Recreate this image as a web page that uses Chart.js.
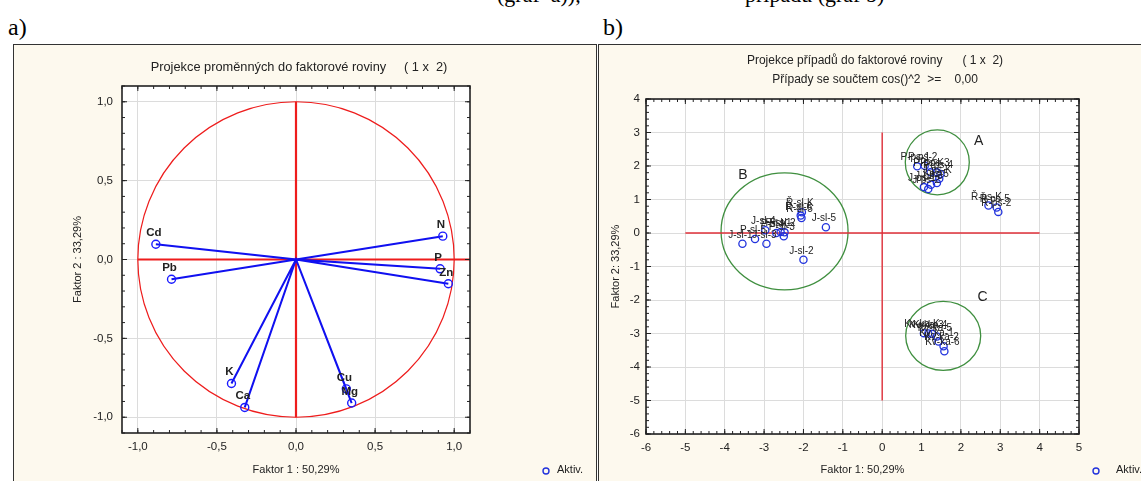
<!DOCTYPE html>
<html>
<head>
<meta charset="utf-8">
<script src="https://cdn.jsdelivr.net/npm/chart.js@4.4.1/dist/chart.umd.min.js"></script>
<style>
    body { margin: 0; width: 1141px; height: 481px; overflow: hidden; background: #fff; position: relative; }
    .tag { position: absolute; font-family: "Liberation Serif", serif; font-size: 24px; color: #000; }
    .top-line { position: absolute; top: -18px; font-family: "Liberation Serif", serif; font-size: 22px; white-space: pre; }
    .panel { position: absolute; background: #fdf9ee; border: 1px solid #333; box-sizing: border-box; }
    #panelA { left: 13px; top: 44px; width: 584px; height: 460px; }
    #panelB { left: 598px; top: 44px; width: 560px; height: 460px; }
    canvas { position: absolute; }
    #chartA { left: 13px; top: 44px; }
    #chartB { left: 598px; top: 44px; }
</style>
</head>
<body>
<div class="top-line" style="left:497px">(graf  a)),</div>
<div class="top-line" style="left:745px">případů (graf b)</div>
<div class="tag" style="left:8px; top:14px">a)</div>
<div class="tag" style="left:603px; top:14px">b)</div>
<div class="panel" id="panelA"></div>
<div class="panel" id="panelB"></div>
<canvas id="chartA" width="584" height="437"></canvas>
<canvas id="chartB" width="543" height="437"></canvas>

<script>
// ---- a) projection of variables ----
const varNames = ['N', 'P', 'Zn', 'Cd', 'Pb', 'K', 'Ca', 'Cu', 'Mg'];
const varF1 = [0.928, 0.911, 0.963, -0.886, -0.787, -0.408, -0.324, 0.318, 0.352];
const varF2 = [0.148, -0.059, -0.154, 0.097, -0.125, -0.786, -0.938, -0.820, -0.910];
const ticksA = [-1.0, -0.5, 0.0, 0.5, 1.0];

// ---- b) projection of cases ----
const caseNames = [
    'Ř-sl-K', 'Ř-sl-6', 'Ř-sl-5', 'J-sl-5', 'J-sl-2', 'J-sl-1', 'P-sl-5', 'J-sl-3', 'J-sl-4',
    'P-sl-K', 'P-sl-1', 'P-sl-2', 'P-sl-3',
    'P-ps-1', 'P-ps-2', 'P-ps-K', 'P-ps-3', 'P-ps-4', 'J-ps-1', 'J-ps-2', 'J-ps-3', 'J-ps-5', 'J-ps-K',
    'Ř-ps-K', 'Ř-ps-5', 'Ř-ps-2',
    'Kv-ka-K', 'Kv-ka-3', 'Kv-ka-4', 'Kv-ka-5', 'Kv-ka-1', 'Kv-ka-2', 'Kv-ka-6'
];
const caseF1 = [
    -2.04, -2.07, -2.05, -1.43, -2.00, -3.55, -3.23, -2.94, -2.97,
    -2.69, -2.58, -2.48, -2.50,
    0.89, 1.08, 1.23, 1.39, 1.48, 1.06, 1.17, 1.24, 1.39, 1.45,
    2.70, 2.91, 2.95,
    1.06, 1.17, 1.27, 1.39, 1.43, 1.56, 1.58
];
const caseF2 = [
    0.62, 0.52, 0.45, 0.17, -0.80, -0.32, -0.18, -0.32, 0.08,
    0.00, 0.03, 0.02, -0.10,
    1.99, 2.01, 1.81, 1.81, 1.76, 1.37, 1.31, 1.44, 1.49, 1.62,
    0.82, 0.76, 0.63,
    -2.99, -3.00, -3.01, -3.09, -3.24, -3.38, -3.53
];
const groupNames = ['A', 'B', 'C'];
const groupF1 = [1.40, -2.48, 1.55];
const groupF2 = [2.11, 0.05, -3.07];
const groupTagF1 = [2.45, -3.54, 2.55];
const groupTagF2 = [2.73, 1.72, -1.90];
const ticksBX = [-6, -5, -4, -3, -2, -1, 0, 1, 2, 3, 4, 5];
const ticksBY = [-6, -5, -4, -3, -2, -1, 0, 1, 2, 3, 4];

// ring sizes in pixels (x, y radius) for groups A, B, C
const ringSize = [[32, 32.5], [63.5, 58.5], [37.5, 34.5]];

const SANS = '"Liberation Sans", Arial, sans-serif';
const comma = (v, d) => v.toFixed(d).replace('.', ',');

// white plot area, outer frame and inward ticks on all four sides
const framePlugin = {
    id: 'frame',
    beforeDraw(chart) {
        const { ctx, chartArea: a } = chart;
        ctx.save();
        ctx.fillStyle = '#fff';
        ctx.fillRect(a.left, a.top, a.right - a.left, a.bottom - a.top);
        ctx.restore();
    },
    afterDraw(chart, args, opts) {
        const { ctx, chartArea: a, scales: { x, y } } = chart;
        ctx.save();
        ctx.strokeStyle = '#222';
        ctx.lineWidth = 1;
        const marks = (scale, step, len) => {
            const start = Math.ceil(scale.min / step - 1e-6);
            for (let i = start; i * step <= scale.max + 1e-6; i++) {
                const p = scale.getPixelForValue(i * step);
                ctx.beginPath();
                if (scale.axis === 'x') {
                    ctx.moveTo(p, a.bottom); ctx.lineTo(p, a.bottom - len);
                    ctx.moveTo(p, a.top); ctx.lineTo(p, a.top + len);
                } else {
                    ctx.moveTo(a.left, p); ctx.lineTo(a.left + len, p);
                    ctx.moveTo(a.right, p); ctx.lineTo(a.right - len, p);
                }
                ctx.stroke();
            }
        };
        marks(x, opts.minor, 3);
        marks(y, opts.minor, 3);
        marks(x, opts.major, 5);
        marks(y, opts.major, 5);
        ctx.lineWidth = 1.6;
        ctx.strokeRect(a.left, a.top, a.right - a.left, a.bottom - a.top);

        // panel title(s)
        ctx.fillStyle = '#222';
        ctx.font = opts.titleFont + ' ' + SANS;
        ctx.textAlign = 'center';
        ctx.textBaseline = 'middle';
        opts.title.forEach((t, i) => ctx.fillText(t, opts.titleX, opts.titleY + i * 19));

        // legend "o Aktiv."
        ctx.font = '11px ' + SANS;
        ctx.strokeStyle = '#2233dd';
        ctx.lineWidth = 1.4;
        ctx.beginPath();
        ctx.arc(opts.legendX, opts.legendY + 1, 3, 0, Math.PI * 2);
        ctx.stroke();
        ctx.textAlign = 'left';
        ctx.fillText('Aktiv.', opts.legendX + opts.legendGap, opts.legendY);
        ctx.restore();
    }
};

// text labels above points
const labelPlugin = {
    id: 'pointTags',
    afterDatasetsDraw(chart, args, opts) {
        const { ctx, scales: { x, y } } = chart;
        ctx.save();
        ctx.fillStyle = '#222';
        ctx.font = opts.font;
        ctx.textAlign = 'center';
        ctx.textBaseline = 'alphabetic';
        opts.names.forEach((n, i) => {
            ctx.fillText(n, x.getPixelForValue(opts.xs[i]) - 2, y.getPixelForValue(opts.ys[i]) - opts.lift);
        });
        ctx.restore();
    }
};

function axisOptions(axis, min, max, ticks, digits, fit, titleText, titlePad, tickPad) {
    return {
        type: 'linear',
        min: min,
        max: max,
        afterBuildTicks: s => { s.ticks = ticks.map(v => ({ value: v })); },
        afterFit: s => { if (axis === 'x') s.height = fit; else s.width = fit; },
        grid: { color: '#dcdcdc', lineWidth: 1, drawTicks: false },
        border: { display: false },
        ticks: {
            padding: tickPad,
            color: '#222',
            font: { family: SANS, size: 11.5 },
            callback: v => comma(v, digits)
        },
        title: {
            display: true,
            text: titleText,
            color: '#222',
            font: { family: SANS, size: 11 },
            padding: titlePad
        }
    };
}

// ----- chart a -----
const spokes = [];
varF1.forEach((v, i) => { spokes.push({ x: 0, y: 0 }, { x: v, y: varF2[i] }); });

const unitCircle = {
    id: 'unitCircle',
    beforeDatasetsDraw(chart) {
        const { ctx, scales: { x, y } } = chart;
        ctx.save();
        ctx.strokeStyle = '#ee1c1c';
        ctx.lineWidth = 1.2;
        ctx.beginPath();
        ctx.ellipse(x.getPixelForValue(0), y.getPixelForValue(0),
            x.getPixelForValue(1) - x.getPixelForValue(0),
            y.getPixelForValue(0) - y.getPixelForValue(1), 0, 0, Math.PI * 2);
        ctx.stroke();
        ctx.restore();
    }
};

new Chart(document.getElementById('chartA'), {
    type: 'scatter',
    data: {
        datasets: [
            {
                data: varF1.map((v, i) => ({ x: v, y: varF2[i] })),
                pointRadius: 4, pointBorderWidth: 1.4, pointBorderColor: '#1a1aff',
                pointBackgroundColor: 'rgba(0,0,0,0)'
            },
            {
                data: spokes, showLine: true, pointRadius: 0,
                borderColor: '#1010f0', borderWidth: 2
            },
            {
                data: [{ x: -1, y: 0 }, { x: 1.1, y: 0 }, { x: NaN, y: NaN }, { x: 0, y: -1 }, { x: 0, y: 1 }],
                showLine: true, spanGaps: false, pointRadius: 0,
                borderColor: '#ee1c1c', borderWidth: 2.2
            }
        ]
    },
    options: {
        responsive: false,
        animation: false,
        events: [],
        layout: { padding: { top: 42, right: 127, bottom: 0, left: 0 } },
        scales: {
            x: axisOptions('x', -1.1, 1.1, ticksA, 1, 48, 'Faktor 1 : 50,29%', { top: 0, bottom: 4 }, 7),
            y: axisOptions('y', -1.1, 1.1, ticksA, 1, 109, 'Faktor 2 : 33,29%', { top: 58, bottom: 0 }, 9)
        },
        plugins: {
            legend: { display: false },
            tooltip: { enabled: false },
            frame: {
                major: 0.5, minor: 0.1,
                title: ['Projekce proměnných do faktorové roviny     ( 1 x  2)'],
                titleFont: '12.8px', titleX: 286, titleY: 23,
                legendX: 533, legendY: 426, legendGap: 11
            },
            pointTags: { names: varNames, xs: varF1, ys: varF2, font: 'bold 11.5px ' + SANS, lift: 8 }
        }
    },
    plugins: [framePlugin, unitCircle, labelPlugin]
});

// ----- chart b -----
const rings = {
    id: 'rings',
    beforeDatasetsDraw(chart) {
        const { ctx, scales: { x, y } } = chart;
        ctx.save();
        ctx.strokeStyle = '#3f8f3f';
        ctx.lineWidth = 1.3;
        groupF1.forEach((g, i) => {
            ctx.beginPath();
            ctx.ellipse(x.getPixelForValue(g), y.getPixelForValue(groupF2[i]),
                ringSize[i][0], ringSize[i][1], 0, 0, Math.PI * 2);
            ctx.stroke();
        });
        ctx.fillStyle = '#222';
        ctx.font = '14px ' + SANS;
        ctx.textAlign = 'center';
        ctx.textBaseline = 'middle';
        groupNames.forEach((n, i) => {
            ctx.fillText(n, x.getPixelForValue(groupTagF1[i]), y.getPixelForValue(groupTagF2[i]));
        });
        ctx.restore();
    }
};

new Chart(document.getElementById('chartB'), {
    type: 'scatter',
    data: {
        datasets: [
            {
                data: caseF1.map((v, i) => ({ x: v, y: caseF2[i] })),
                pointRadius: 3.6, pointBorderWidth: 1.3, pointBorderColor: '#2233dd',
                pointBackgroundColor: 'rgba(0,0,0,0)'
            },
            {
                data: [{ x: -5, y: 0 }, { x: 4, y: 0 }, { x: NaN, y: NaN }, { x: 0, y: -5 }, { x: 0, y: 3 }],
                showLine: true, spanGaps: false, pointRadius: 0,
                borderColor: '#e0303a', borderWidth: 1.4
            }
        ]
    },
    options: {
        responsive: false,
        animation: false,
        events: [],
        layout: { padding: { top: 55, right: 62, bottom: 0, left: 0 } },
        scales: {
            x: axisOptions('x', -6, 5, ticksBX, 0, 47, 'Faktor 1: 50,29%', { top: 0, bottom: 4 }, 7),
            y: axisOptions('y', -6, 4, ticksBY, 0, 48, 'Faktor 2: 33,29%', { top: 11, bottom: 0 }, 6)
        },
        plugins: {
            legend: { display: false },
            tooltip: { enabled: false },
            frame: {
                major: 1, minor: 0.2,
                title: ['Projekce případů do faktorové roviny      ( 1 x  2)', 'Případy se součtem cos()^2  >=    0,00'],
                titleFont: '12px', titleX: 277, titleY: 17,
                legendX: 498, legendY: 426, legendGap: 20
            },
            pointTags: { names: caseNames, xs: caseF1, ys: caseF2, font: '10px ' + SANS, lift: 6 }
        }
    },
    plugins: [framePlugin, rings, labelPlugin]
});
</script>
</body>
</html>
